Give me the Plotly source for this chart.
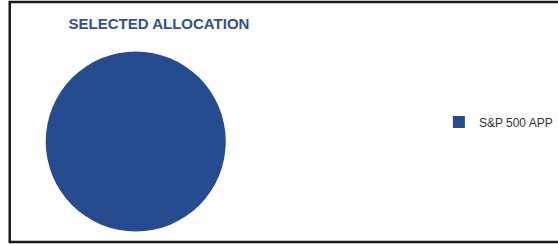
import plotly.graph_objects as go

labels = ["S&P 500 APP"]
values = [100]
colors = ["#264B8E"]
title_text = "SELECTED ALLOCATION"

W, H = 558, 244

fig = go.Figure(go.Pie(
    labels=labels,
    values=values,
    marker=dict(colors=colors, line=dict(width=0)),
    textinfo="none",
    hoverinfo="label+percent",
    sort=False,
    domain=dict(x=[47 / W, 232 / W], y=[1 - 233 / H, 1 - 50 / H]),
))

fig.update_layout(
    width=W, height=H,
    margin=dict(l=0, r=0, t=0, b=0),
    paper_bgcolor="white",
    plot_bgcolor="white",
    font=dict(family="Liberation Sans, Arial, sans-serif", color="#333333"),
    title=dict(
        text="<b>" + title_text + "</b>",
        x=159 / W, xanchor="center",
        y=1 - 24 / H, yanchor="middle",
        font=dict(size=15, color="#33508F", family="Liberation Sans, Arial, sans-serif"),
    ),
    showlegend=True,
    legend=dict(
        x=451 / W, xanchor="left",
        y=1 - 122 / H, yanchor="middle",
        font=dict(size=12, color="#333333"),
        bgcolor="rgba(0,0,0,0)",
    ),
    shapes=[dict(
        type="rect", xref="paper", yref="paper",
        x0=10 / W, x1=1.05, y0=2 / H, y1=1 - 2 / H,
        line=dict(color="#1a1a1a", width=2.5),
        fillcolor="rgba(0,0,0,0)",
    )],
)

fig.write_html(
    "out.html",
    config={"displayModeBar": False},
    post_script="document.body.style.margin='0';document.body.style.overflow='hidden';",
)
